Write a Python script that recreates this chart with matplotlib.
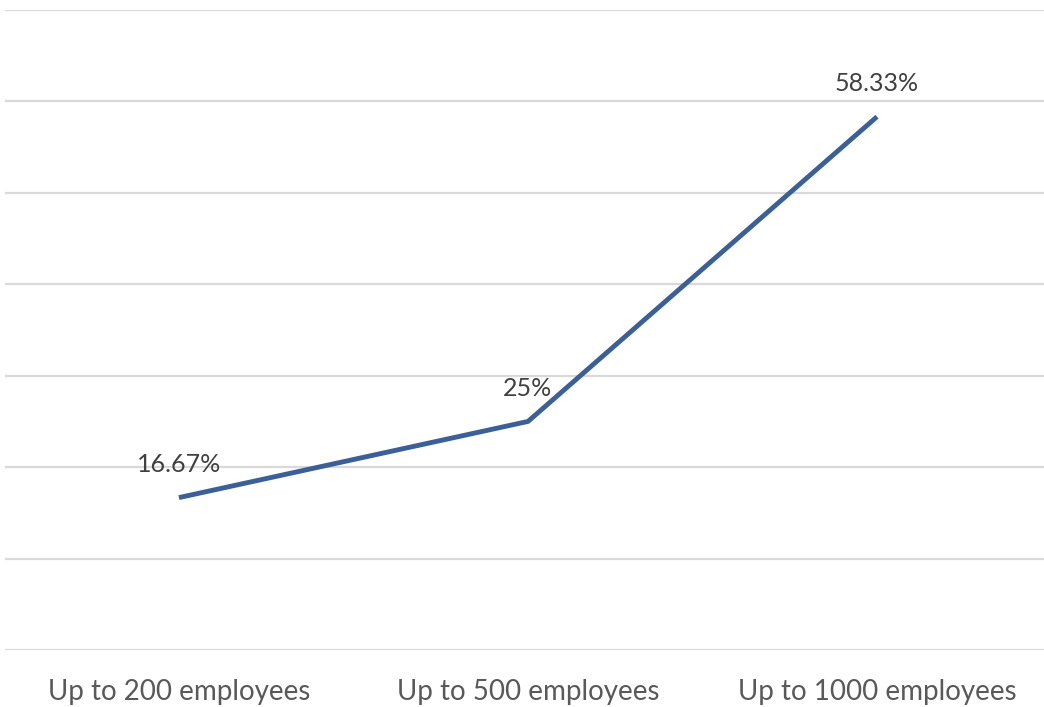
import matplotlib
matplotlib.use("Agg")
import matplotlib.pyplot as plt

categories = ["Up to 200 employees", "Up to 500 employees", "Up to 1000 employees"]
values = [16.67, 25, 58.33]
value_labels = ["16.67%", "25%", "58.33%"]
y_ticks = [0, 10, 20, 30, 40, 50, 60, 70]

W, H = 1044, 707
fig = plt.figure(figsize=(W / 100, H / 100), dpi=100)
fig.patch.set_facecolor("white")

left_px, right_px = 5, 1044
bottom_px, top_px = 650, 10
ax = fig.add_axes([left_px / W, (H - bottom_px) / H,
                   (right_px - left_px) / W, (bottom_px - top_px) / H])

x = list(range(len(categories)))
ax.plot(x, values, color="#3A5F99", linewidth=3.5, solid_capstyle="butt",
        solid_joinstyle="miter", zorder=3)

for xi, v, lab in zip(x, values, value_labels):
    ax.annotate(lab, (xi, v), xytext=(0, 24), textcoords="offset points",
                ha="center", va="center", fontsize=18, color="#404040",
                family=["Lato", "DejaVu Sans"], zorder=4)

step = 349
ax.set_xlim(-(179 - left_px) / step, 2 + (right_px - 877) / step)
ax.set_ylim(y_ticks[0], y_ticks[-1])
ax.set_yticks(y_ticks)
ax.yaxis.grid(True, color="#D9D9D9", linewidth=1.6)
ax.set_axisbelow(True)
ax.tick_params(axis="y", left=False, labelleft=False)
ax.set_xticks(x)
ax.set_xticklabels(categories, fontsize=20, color="#595959",
                   family=["Lato", "DejaVu Sans"])
ax.tick_params(axis="x", length=0, pad=21)
for s in ax.spines.values():
    s.set_visible(False)

fig.savefig("out.png", dpi=100, facecolor="white")
